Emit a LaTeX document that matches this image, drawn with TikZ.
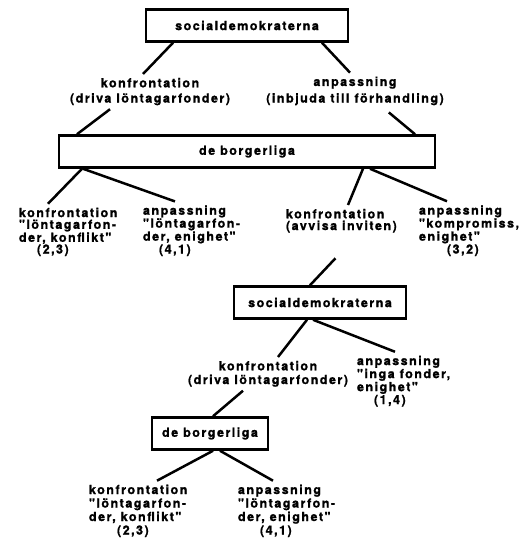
\documentclass[tikz,border=0pt]{standalone}
\usepackage{fontspec}
\newfontfamily\labfont[LetterSpace=12,BoldFeatures={FakeBold=1.2}]{TeX Gyre Heros}
\begin{document}
\begin{tikzpicture}[x=1pt,y=-1pt,
  box/.style={draw,line width=2.5pt,minimum height=32pt,inner sep=0pt,
    font=\fontsize{12.5}{12}\labfont\bfseries},
  lab/.style={inner sep=0pt,outer sep=4pt,font=\fontsize{12.5}{11.7}\labfont\bfseries},
  leaf/.style={lab,align=left,anchor=base west},
  mid/.style={lab,align=center,anchor=base},
  wide/.style={font=\fontsize{12.5}{13.5}\labfont\bfseries},
  conn/.style={line width=2.5pt}]
\useasboundingbox (0,0) rectangle (519,549);
% boxes
\node[box,minimum width=202pt] (sd1) at (247,25.5) {socialdemokraterna};
\node[box,minimum width=376pt] (b2) at (247,151.5) {de borgerliga};
\node[box,minimum width=172pt] (sd2) at (320,302.5) {socialdemokraterna};
\node[box,minimum width=116pt] (b4) at (210,433.5) {de borgerliga};
% first level labels (anchor = baseline of last line)
\node[mid] (k1) at (150,102.5) {konfrontation\\[3.5pt](driva löntagarfonder)};
\node[mid] (a1) at (355,102.5) {anpassning\\[3.5pt](inbjuda till förhandling)};
% second level leaves
\node[leaf] (L1) at (15,253.5) {konfrontation\\"löntagarfon-\\der, konflikt"\\\hspace*{18pt}(2,3)};
\node[leaf] (L2) at (139,253.5) {anpassning\\"löntagarfon-\\der, enighet"\\\hspace*{16pt}(4,1)};
\node[leaf] (L3) at (282,230) {konfrontation\\(avvisa inviten)};
\node[leaf] (L4) at (415,253.5) {anpassning\\"kompromiss,\\enighet"\\\hspace*{28pt}(3,2)};
% third level
\node[mid] (K2) at (268,384) {konfrontation\\[2pt](driva löntagarfonder)};
\node[leaf] (L5) at (353,404) {anpassning\\"inga fonder,\\enighet"\\\hspace*{17pt}(1,4)};
% fourth level
\node[leaf,wide] (L6) at (85,534.5) {konfrontation\\"löntagarfon-\\der, konflikt"\\\hspace*{28pt}(2,3)};
\node[leaf,wide] (L7) at (234,534.5) {anpassning\\"löntagarfon-\\der, enighet"\\\hspace*{22pt}(4,1)};
% connectors
\draw[conn] (sd1.south -| 173,0) -- (k1.north -| 143,0);
\draw[conn] (sd1.south -| 322,0) -- (a1.north -| 350,0);
\draw[conn] (k1.south -| 110,0) -- (b2.north -| 77,0);
\draw[conn,shorten <=5pt] (a1.south -| 385,0) -- (b2.north -| 415,0);
\draw[conn] (b2.south -| 82,0) -- (L1.north -| 48,0);
\draw[conn] (b2.south -| 83,0) -- (L2.north -| 175,0);
\draw[conn] (b2.south -| 363,0) -- (L3.north -| 348,0);
\draw[conn] (b2.south -| 370,0) -- (L4.north -| 447,0);
\draw[conn,shorten <=30pt] (L3.south -| 356,0) -- (sd2.north -| 310,0);
\draw[conn] (sd2.south -| 307,0) -- (K2.north -| 278,0);
\draw[conn] (sd2.south -| 313,0) -- (L5.north -| 395,0);
\draw[conn] (K2.south -| 243,0) -- (b4.north -| 213,0);
\draw[conn] (b4.south -| 213,0) -- (L6.north -| 157,0);
\draw[conn] (b4.south -| 220,0) -- (L7.north -| 273,0);
\end{tikzpicture}
\end{document}
